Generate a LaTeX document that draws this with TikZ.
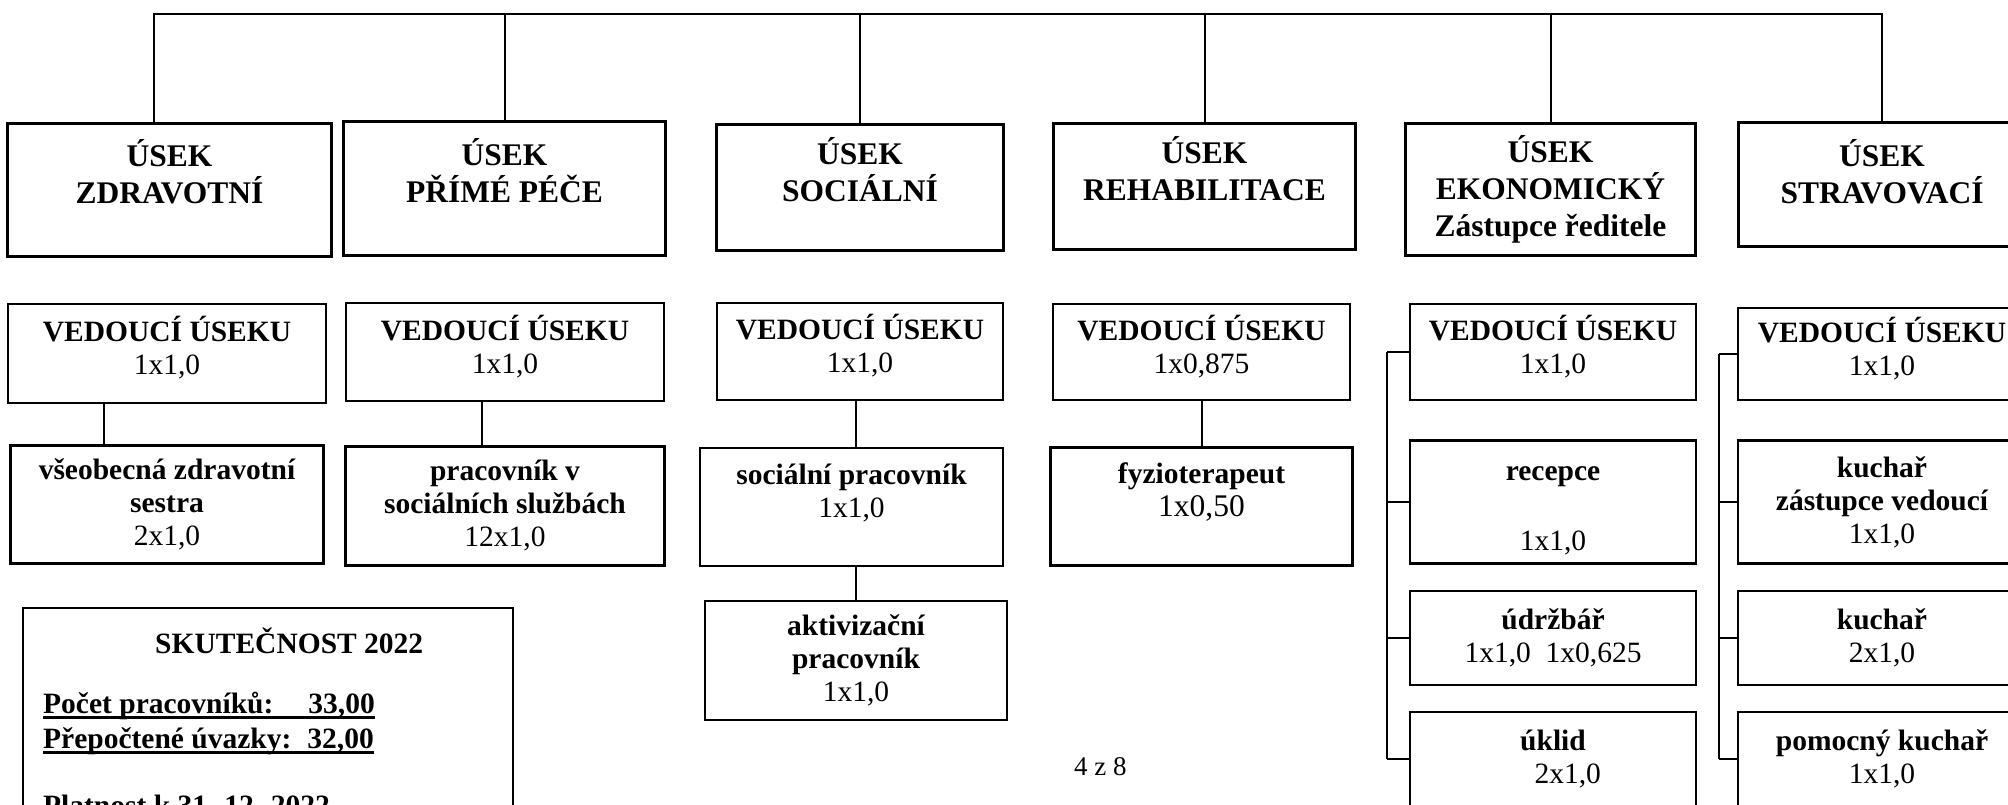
\documentclass[tikz,border=0pt]{standalone}
\usepackage{fontspec}
\setmainfont{Liberation Serif}
\usetikzlibrary{positioning}

\newcommand{\fte}[1]{\mdseries #1}
\newcommand{\vedtext}[1]{VEDOUCÍ ÚSEKU\\\mdseries #1\rule[-16pt]{0pt}{16pt}}

\begin{document}
\begin{tikzpicture}[x=1pt, y=-1pt,
    dept/.style={draw, line width=3.4pt, align=center, inner sep=0pt,
      font=\fontsize{31.5}{37}\selectfont\bfseries},
    unit/.style={draw, line width=2.4pt, align=center, inner sep=0pt,
      font=\fontsize{29.5}{33}\selectfont\bfseries},
    summ/.style={anchor=base west, inner sep=0pt, font=\fontsize{29.5}{33}\selectfont\bfseries},
    link/.style={line width=2pt},
    ]
    \useasboundingbox (0,0) rectangle (2008,805);
    \clip (0,0) rectangle (2008,805);

    % Useky
    \node[dept, minimum width=324pt, minimum height=133pt] (zdrav) at (169.5,190) {ÚSEK\\ZDRAVOTNÍ\\~};
    \node[dept, minimum width=322pt, minimum height=134pt] (prime) at (504.5,188.5) {ÚSEK\\PŘÍMÉ PÉČE\\~};
    \node[dept, minimum width=287pt, minimum height=126pt] (social) at (860,187.5) {ÚSEK\\SOCIÁLNÍ\\~};
    \node[dept, minimum width=302pt, minimum height=126pt] (rehab) at (1204.5,186.5) {ÚSEK\\REHABILITACE\\~};
    \node[dept, minimum width=290pt, minimum height=132pt] (ekon) at (1550.5,189.5) {ÚSEK\\EKONOMICKÝ\\Zástupce ředitele};
    \node[dept, minimum width=287pt, minimum height=124pt] (strav) at (1882,184.5) {ÚSEK\\STRAVOVACÍ\\[-10pt]~};

    % Vedouci useku
    \node[unit, minimum width=318pt, minimum height=99pt] (ved1) at (167,353.5) {\vedtext{1x1,0}};
    \node[unit, minimum width=318pt, minimum height=98pt] (ved2) at (505,352) {\vedtext{1x1,0}};
    \node[unit, minimum width=286pt, minimum height=97pt] (ved3) at (860,351.5) {\vedtext{1x1,0}};
    \node[unit, minimum width=297pt, minimum height=96pt] (ved4) at (1201.5,352) {\vedtext{1x0,875}};
    \node[unit, minimum width=286pt, minimum height=96pt] (ved5) at (1553,352) {\vedtext{1x1,0}};
    \node[unit, minimum width=288pt, minimum height=92pt] (ved6) at (1882,354) {\vedtext{1x1,0}};

    % Pracovnici
    \node[unit, minimum width=313pt, minimum height=118pt, below=40pt of ved1] (sestra) {všeobecná zdravotní\\sestra\\\fte{2x1,0}};
    \node[unit, minimum width=319pt, minimum height=119pt, below=43pt of ved2] (pss) {pracovník v\\sociálních službách\\\fte{12x1,0}};
    \node[unit, minimum width=303pt, minimum height=118pt] (socprac) at (851.5,507) {sociální pracovník\\\fte{1x1,0}\\~};
    \node[unit, minimum width=302pt, minimum height=119pt] (aktiv) at (856,660.5) {aktivizační\\pracovník\\\fte{1x1,0}};
    \node[unit, minimum width=302pt, minimum height=118pt, below=45pt of ved4] (fyzio) {fyzioterapeut\\{\mdseries\fontsize{31.5}{33}\selectfont 1x0,50}\\~};

    \node[unit, minimum width=286pt, minimum height=123pt, below=38pt of ved5] (recepce) {\rule{0pt}{31pt}recepce\\[4pt]~\\\fte{1x1,0}};
    \node[unit, minimum width=286pt, minimum height=94pt, below=25pt of recepce] (udrzbar) {údržbář\\\fte{1x1,0\ \ 1x0,625}};
    \node[unit, minimum width=286pt, minimum height=94pt, below=25pt of udrzbar] (uklid) {úklid\\\fte{\hspace*{1em}2x1,0}};

    \node[unit, minimum width=288pt, minimum height=123pt, below=38pt of ved6] (kuchzast) {kuchař\\zástupce vedoucí\\\fte{1x1,0}};
    \node[unit, minimum width=288pt, minimum height=94pt, below=25pt of kuchzast] (kuchar) {kuchař\\\fte{2x1,0}};
    \node[unit, minimum width=288pt, minimum height=94pt, below=25pt of kuchar] (pomkuch) {pomocný kuchař\\\fte{1x1,0}};

    % Skutecnost
    \node[draw, line width=2.4pt, minimum width=490pt, minimum height=260pt, anchor=north west] (summary) at (22,607) {};
    \node[summ] (sumtitle) at (155,653) {SKUTEČNOST 2022};
    \node[summ] (sumcount) at (43,713) {Počet pracovníků:\hspace{35pt}33,00};
    \node[summ] (sumfte) at (43,748) {Přepočtené úvazky:\hspace{16pt}32,00};
    \node[summ] (sumdate) at (43,815) {Platnost k 31. 12. 2022};
    \draw[line width=3pt] ([yshift=-4pt]sumcount.base west) -- ([yshift=-4pt]sumcount.base east);
    \draw[line width=3pt] ([yshift=-4pt]sumfte.base west) -- ([yshift=-4pt]sumfte.base east);

    \node[anchor=base west, inner sep=0pt, font=\fontsize{27}{30}\selectfont] (pageno) at (1074,775) {4 z 8};

    % Spojnice
    \coordinate (bus) at (0,14);
    \draw[link] ([xshift=-16pt]zdrav.north) |- (bus -| strav.north) -- (strav.north);
    \foreach \d in {prime, social, rehab, ekon}
      \draw[link] (\d.north) -- (\d.north |- bus);

    \draw[link] ([xshift=-63pt]ved1.south) -- ([xshift=-63pt]ved1.south |- sestra.north);
    \draw[link] ([xshift=-23pt]ved2.south) -- ([xshift=-23pt]ved2.south |- pss.north);
    \draw[link] ([xshift=-4pt]ved3.south) -- ([xshift=-4pt]ved3.south |- socprac.north);
    \draw[link] (aktiv.north |- socprac.south) -- (aktiv.north);
    \draw[link] (ved4.south) -- (ved4.south |- fyzio.north);

    \coordinate (ekrail) at (1387,0);
    \coordinate (stravrail) at (1719,0);
    \draw[link] (ved5.west -| ekrail) -- (uklid.west -| ekrail);
    \foreach \b in {ved5, recepce, udrzbar, uklid}
      \draw[link] (\b.west) -- (\b.west -| ekrail);
    \draw[link] (ved6.west -| stravrail) -- (pomkuch.west -| stravrail);
    \foreach \b in {ved6, kuchzast, kuchar, pomkuch}
      \draw[link] (\b.west) -- (\b.west -| stravrail);
\end{tikzpicture}
\end{document}
